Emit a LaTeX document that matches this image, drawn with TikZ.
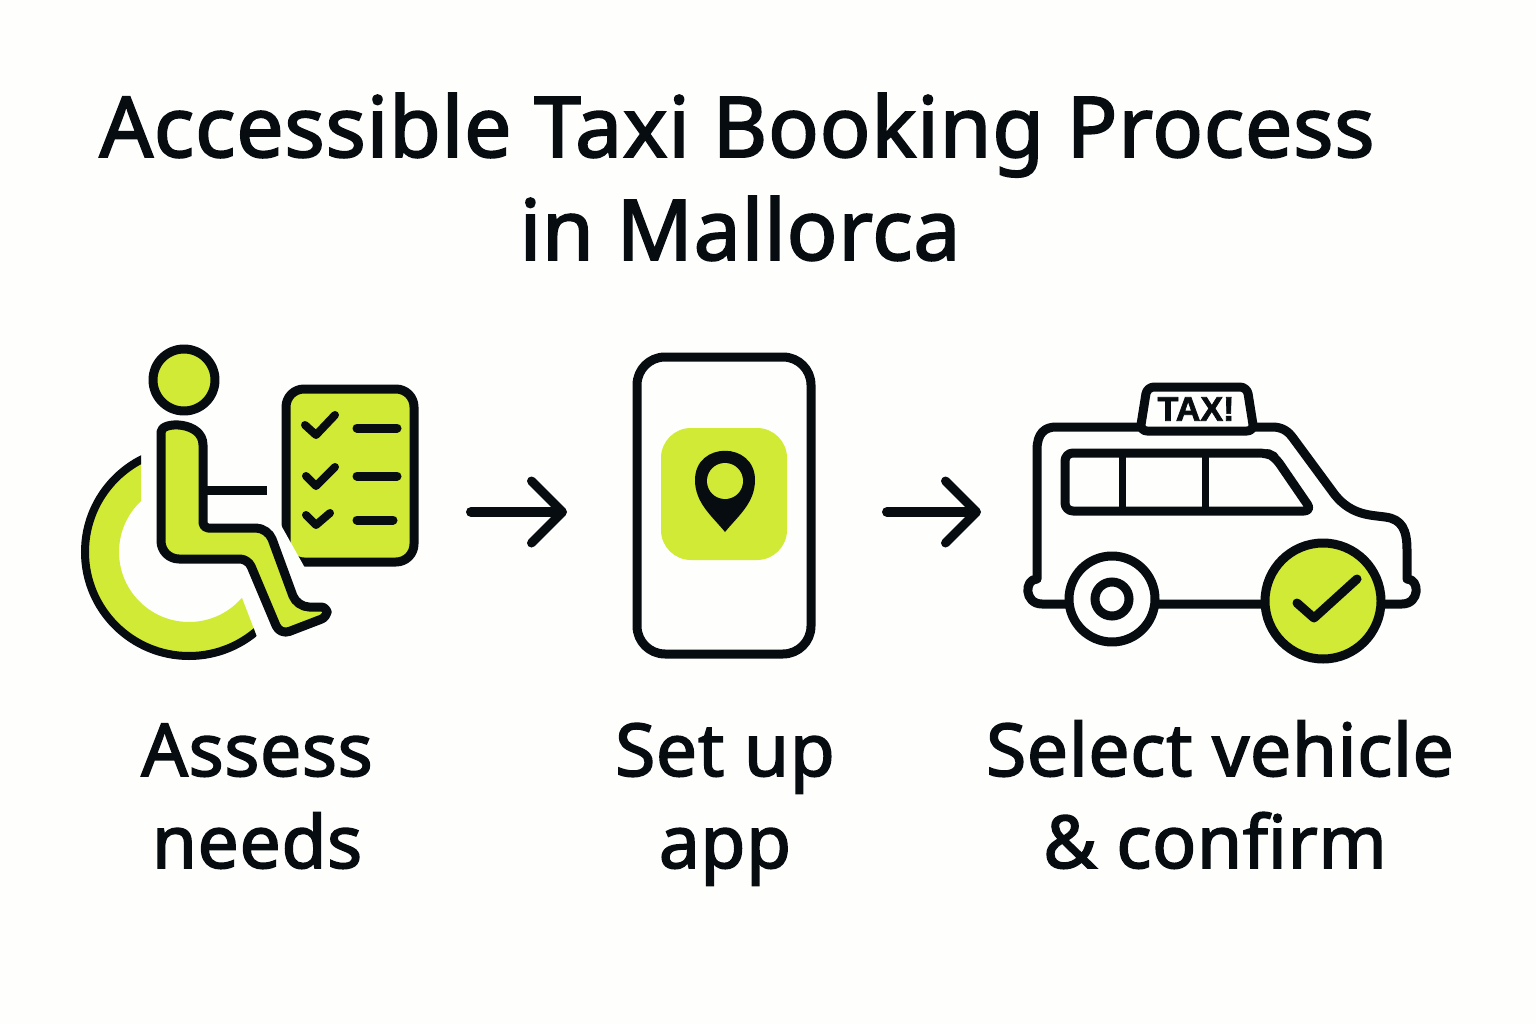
\documentclass[tikz,border=0pt]{standalone}
\usepackage{fontspec}
\setmainfont[FakeBold=2.2,LetterSpace=1]{Noto Sans}
\newfontfamily\signfont[FakeBold=2]{Liberation Sans Bold}
\usetikzlibrary{arrows.meta}
\definecolor{ink}{HTML}{060C0F}
\definecolor{lime}{HTML}{D0EA36}
\definecolor{paper}{HTML}{FEFEFC}
\tikzset{
  x=1pt,y=-1pt,
  ink line/.style={draw=ink,line width=9pt,line join=round,line cap=round},
  lime shape/.style={ink line,fill=lime},
  white shape/.style={ink line,fill=paper},
  tick/.style={draw=ink,line width=8pt,line cap=round,line join=round},
  title text/.style={font=\fontsize{84}{84}\selectfont,text=ink,anchor=base,inner sep=0pt},
  label text/.style={font=\fontsize{73}{73}\selectfont,text=ink,anchor=base,inner sep=0pt},
  flow/.style={draw=ink,line width=10pt,line cap=round,-{Straight Barb[length=31pt,width=62pt,line width=9pt,round]}},
}
\begin{document}
\begin{tikzpicture}
\useasboundingbox (0,0) rectangle (1536,1024);
\fill[paper] (0,0) rectangle (1536,1024);

% Title
\node[title text] (title1) at (737,157) {Accessible Taxi Booking Process};
\node[title text] (title2) at (740,260) {in Mallorca};

% Wheelchair rim
\begin{scope}
  \clip (60,440) -- (141,440) -- (141,500) -- (141,560) -- (242,598) -- (262,650) -- (262,680) -- (60,680) -- cycle;
  \fill[lime,even odd rule] (189,552) circle[radius=104] (189,552) circle[radius=70];
  \draw[ink,line width=8pt] (189,552) circle[radius=104];
\end{scope}

% Checklist
\path[lime shape,rounded corners=18pt] (286,389) rectangle (414,562);
\fill[paper] (277,517) -- (282,527) -- (291,543) -- (305,568) -- (293,573) -- (265,540) -- cycle;
\draw[tick] (305,425) -- (316,435) -- (335,415);
\draw[tick] (306,476) -- (316,486) -- (335,467);
\draw[tick] (306,515) -- (316,525) -- (330,513);
\draw[ink line] (357,428) -- (397,428);
\draw[ink line] (357,476) -- (397,476);
\draw[ink line] (357,520) -- (393,520);

% Person
\draw[lime shape] (184,380) circle[radius=31];
\draw[draw=ink,line width=9pt] (203,490) -- (267,490);
\path[lime shape,rounded corners=5pt]
  (161,450) .. controls (161,421) and (203,421) .. (203,450)
  -- (203,528) [rounded corners=12pt] -- (268,528) -- (297,607)
  [rounded corners=6pt] -- (327,607) -- (327,617) [rounded corners=10pt] -- (280,635)
  [rounded corners=8pt] -- (248,559) [rounded corners=18pt] -- (161,559) -- cycle;

% Arrows
\coordinate (a1s) at (471,512);
\coordinate (a1e) at (567,512);
\coordinate (a2s) at (887,512);
\coordinate (a2e) at (981,512);
\draw[flow] (a1s) -- (a1e);
\draw[flow] (a2s) -- (a2e);

% Phone
\path[white shape,rounded corners=28pt] (637,357) rectangle (811,654);
\fill[lime,rounded corners=30pt] (661,428) rectangle (787,560);
\fill[ink,even odd rule] (725,532) .. controls (712,516) and (695,503) .. (695,480)
  .. controls (695,441) and (755,441) .. (755,480) .. controls (755,503) and (738,516) .. (725,532) -- cycle;
\fill[lime] (725,481) circle[radius=18];

% Taxi body
\path[white shape] (1060,604) -- (1042,604) .. controls (1024,604) and (1024,579) .. (1037,579)
  -- (1037,450) .. controls (1037,433) and (1045,427) .. (1056,427)
  -- (1272,427) .. controls (1282,427) and (1288,431) .. (1293,438)
  -- (1335,495) .. controls (1352,516) and (1372,515) .. (1385,517)
  .. controls (1402,519) and (1407,530) .. (1407,550)
  -- (1407,579) .. controls (1420,579) and (1420,604) .. (1402,604) -- cycle;
\path[ink line,rounded corners=8pt] (1065,453) -- (1267,453) -- (1275,457) -- (1312,511) -- (1065,511) -- cycle;
\draw[draw=ink,line width=7pt] (1122,453) -- (1122,511);
\draw[draw=ink,line width=7pt] (1205,453) -- (1205,511);

% Sign
\path[white shape,rounded corners=7pt] (1140,431) -- (1147,387) -- (1247,387) -- (1254,431) -- cycle;
\node[font=\signfont\fontsize{34}{34}\selectfont,text=ink,inner sep=0pt] (sign) at (1196,409) {TAX!};

% Wheels
\draw[white shape] (1112,599) circle[radius=43];
\draw[draw=ink,line width=9pt] (1112,599) circle[radius=17];
\draw[lime shape] (1323,601) circle[radius=58];
\draw[ink line,line width=9pt] (1297,603) -- (1314,618) -- (1357,579);

% Labels
\node[label text] (l1a) at (257,776) {Assess};
\node[label text] (l1b) at (257,868) {needs};
\node[label text] (l2a) at (725,776) {Set up};
\node[label text] (l2b) at (725,868) {app};
\node[label text] (l3a) at (1220,776) {Select vehicle};
\node[label text] (l3b) at (1215,868) {\& confirm};
\end{tikzpicture}
\end{document}
